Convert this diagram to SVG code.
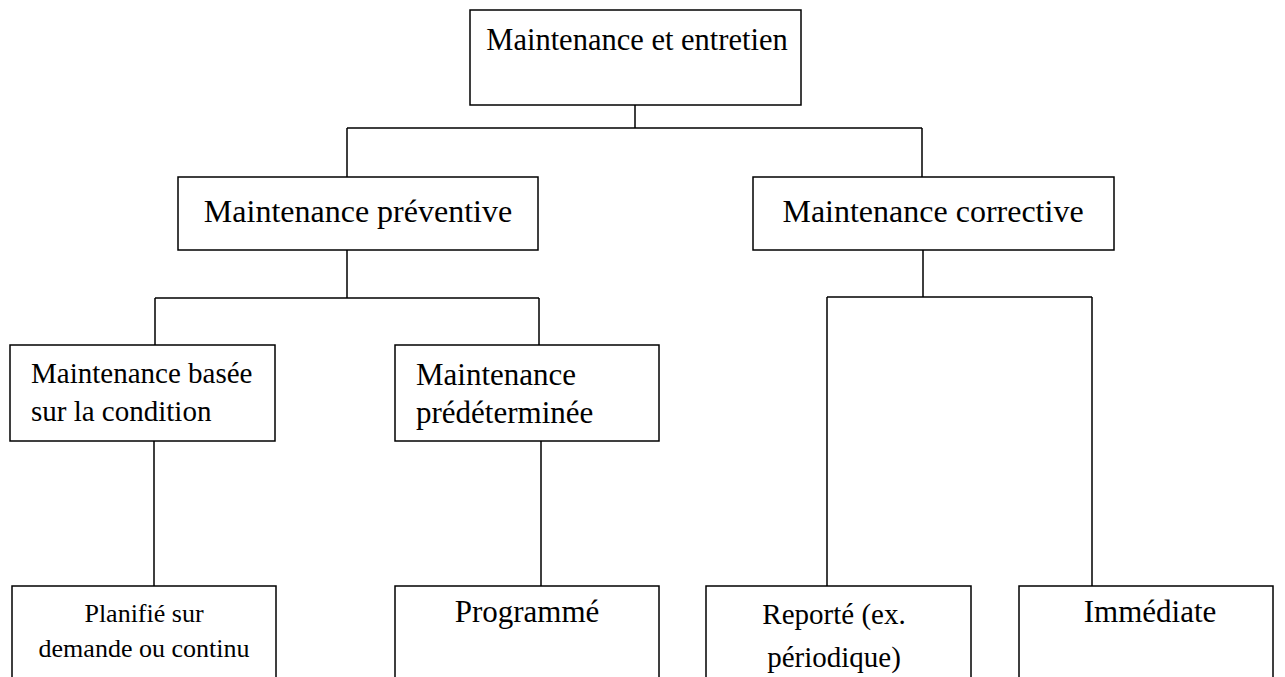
<svg xmlns="http://www.w3.org/2000/svg" width="1285" height="677" viewBox="0 0 1285 677">
<style>
.box{fill:#fff;stroke:#000;stroke-width:1.5}
.t{font-family:"Liberation Serif","Times New Roman",serif;fill:#000}
.c{stroke:#000;stroke-width:1.5;fill:none}
</style>
<rect width="1285" height="677" fill="#fff"/>
<g id="connectors">
<path class="c" d="M635 105V128M347 128H922M347 128V177M922 128V177"/>
<path class="c" d="M347 250V298M155 298H539M155 298V345M539 298V345"/>
<path class="c" d="M923 250V297M827 297H1092M827 297V586M1092 297V586"/>
<path class="c" d="M154 441V586M541 441V586"/>
</g>
<g id="n-root"><rect class="box" x="470" y="10" width="331" height="95"/><text class="t" x="637" y="50" font-size="30.5" text-anchor="middle">Maintenance et entretien</text></g>
<g id="n-prev"><rect class="box" x="178" y="177" width="360" height="73"/><text class="t" x="358" y="222" font-size="32" text-anchor="middle">Maintenance préventive</text></g>
<g id="n-corr"><rect class="box" x="753" y="177" width="361" height="73"/><text class="t" x="933" y="222" font-size="32" text-anchor="middle">Maintenance corrective</text></g>
<g id="n-cond"><rect class="box" x="10" y="345" width="265" height="96"/><text class="t" font-size="29"><tspan x="31" y="383">Maintenance basée</tspan><tspan x="31" y="421">sur la condition</tspan></text></g>
<g id="n-pred"><rect class="box" x="395" y="345" width="264" height="96"/><text class="t" font-size="31"><tspan x="416" y="385">Maintenance</tspan><tspan x="416" y="423">prédéterminée</tspan></text></g>
<g id="n-plan"><rect class="box" x="12" y="586" width="264" height="110"/><text class="t" font-size="26" text-anchor="middle"><tspan x="144" y="622">Planifié sur</tspan><tspan x="144" y="657">demande ou continu</tspan></text></g>
<g id="n-prog"><rect class="box" x="395" y="586" width="264" height="110"/><text class="t" x="527" y="622" font-size="31" text-anchor="middle">Programmé</text></g>
<g id="n-rep"><rect class="box" x="706" y="586" width="265" height="110"/><text class="t" font-size="29" text-anchor="middle"><tspan x="834" y="624">Reporté (ex.</tspan><tspan x="834" y="667">périodique)</tspan></text></g>
<g id="n-imm"><rect class="box" x="1019" y="586" width="254" height="110"/><text class="t" x="1150" y="622" font-size="31" text-anchor="middle">Immédiate</text></g>
</svg>
